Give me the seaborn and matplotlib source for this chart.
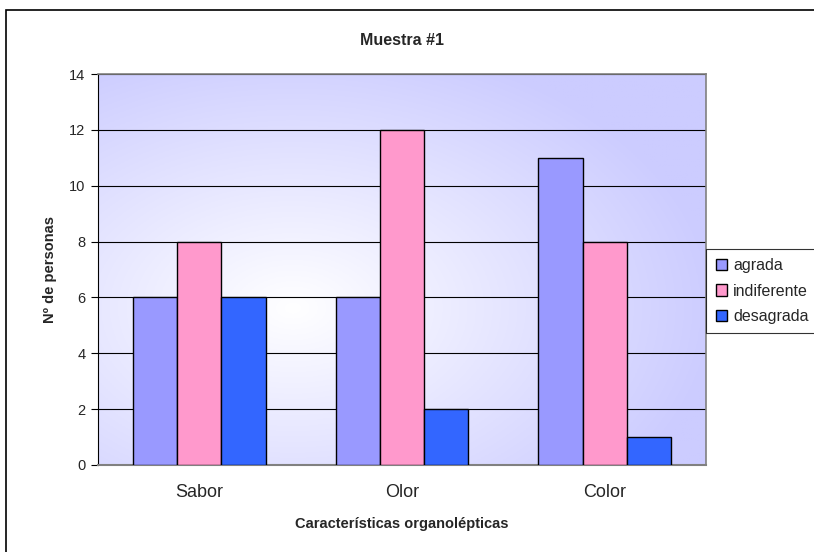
import numpy as np
import pandas as pd
import matplotlib
matplotlib.use("Agg")
import matplotlib.pyplot as plt
import seaborn as sns
from matplotlib.patches import Rectangle

categories = ["Sabor", "Olor", "Color"]
series = ["agrada", "indiferente", "desagrada"]
agrada = [6, 6, 11]
indiferente = [8, 12, 8]
desagrada = [6, 2, 1]
colors = ["#9999FF", "#FF99CC", "#3366FF"]

df = pd.DataFrame({
    "cat": categories * 3,
    "serie": [s for s in series for _ in categories],
    "val": agrada + indiferente + desagrada,
})

sns.set_style("white")
plt.rcParams['font.family'] = ['Liberation Sans', 'DejaVu Sans']

W, H = 814, 552
fig = plt.figure(figsize=(W / 100, H / 100), dpi=100)
ax = fig.add_axes([98 / W, 1 - 465 / H, (706 - 98) / W, (465 - 74) / H])

# radial gradient background
ny, nx = 200, 300
yy, xx = np.mgrid[0:1:ny * 1j, 0:1:nx * 1j]
cx, cy = 0.32, 0.40
r = np.sqrt(((xx - cx) / 0.7) ** 2 + ((yy - cy) / 0.7) ** 2)
r = np.clip(r, 0, 1)
c0 = np.array([1.0, 1.0, 1.0])
c1 = np.array([0xCC, 0xCC, 0xFF]) / 255
img = c0[None, None, :] * (1 - r[..., None]) + c1[None, None, :] * r[..., None]
ax.imshow(img, extent=[0, 1, 0, 1], transform=ax.transAxes, aspect="auto",
          zorder=-10, origin="lower")

sns.barplot(data=df, x="cat", y="val", hue="serie", hue_order=series,
            palette=colors, width=0.655, gap=0, edgecolor="black", linewidth=1,
            saturation=1, ax=ax, zorder=3)

ax.set_ylim(0, 14)
ax.set_xlim(-0.5, 2.5)
ax.set_yticks(range(0, 15, 2))
ax.yaxis.grid(True, color="black", linewidth=0.8, zorder=1)
ax.set_axisbelow(True)
for s in ["top", "right"]:
    ax.spines[s].set_color("#808080")
    ax.spines[s].set_linewidth(1.2)
ax.spines["left"].set_color("black")
ax.spines["bottom"].set_color("#808080")
ax.spines["bottom"].set_linewidth(1.5)
ax.tick_params(axis="y", which="both", left=True, length=5, width=0.8,
               labelsize=10.5, pad=4, color="black")
ax.tick_params(axis="x", bottom=False, labelsize=13, pad=10)
ax.set_xlabel("Características organolépticas", fontsize=10.5, fontweight="bold",
              labelpad=12)
ax.set_ylabel("Nº de personas", fontsize=10.5, fontweight="bold", labelpad=9)
ax.set_title("Muestra #1", fontsize=11.5, fontweight="bold", pad=21)

leg = ax.legend(loc="center left", bbox_to_anchor=(1.0, 0.445), frameon=True,
                fontsize=11.5, handlelength=0.7, handleheight=0.7,
                handletextpad=0.4, borderpad=0.6, labelspacing=0.65,
                fancybox=False, borderaxespad=0.0)
leg.get_frame().set_edgecolor("black")
leg.get_frame().set_linewidth(0.8)

fig.patches.append(Rectangle((6 / W, -0.1), 1.2, (1 - 10 / H) + 0.1,
                             transform=fig.transFigure, fill=False,
                             edgecolor="black", linewidth=1.2, zorder=-5))

fig.savefig("out.png", dpi=100, facecolor="white")
